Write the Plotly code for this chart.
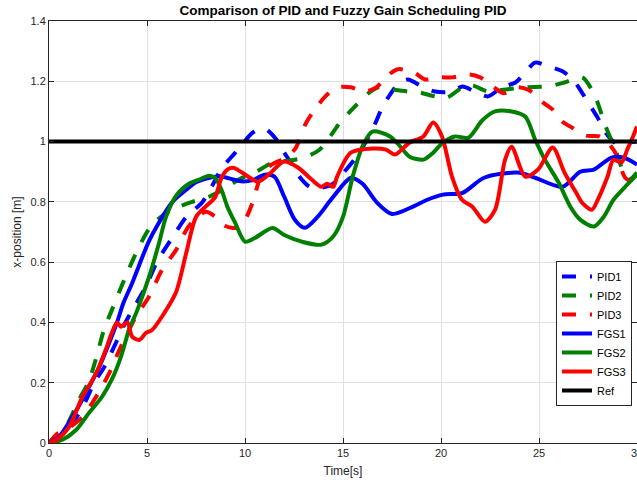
import plotly.graph_objects as go

# ---------------- data ----------------
pid1_t = [0, 0.5, 1.0, 1.5, 1.9, 2.3, 2.8, 3.47, 3.9, 4.24, 4.95, 5.5, 6.28, 7.0, 7.8, 8.3, 8.8, 9.5, 9.85,
          10.4, 11.0, 11.6, 11.9, 12.4, 12.7, 13.3, 13.9, 14.5, 14.85, 15.7, 16.5, 17.0, 17.3, 17.8, 18.3,
          19.1, 19.7, 20.6, 21.1, 21.8, 22.4, 23.1, 23.8, 24.3, 24.8, 25.46, 26.2, 26.8, 27.5, 27.96, 28.4,
          28.8, 29.1, 29.6, 30]
pid1_v = [0, 0.015, 0.05, 0.095, 0.143, 0.2, 0.25, 0.34, 0.40, 0.44, 0.52, 0.60, 0.68, 0.75, 0.797, 0.85, 0.91, 0.963, 0.99,
          1.03, 1.043, 1.007, 0.973, 0.924, 0.89, 0.85, 0.847, 0.86, 0.884, 0.95, 1.04, 1.113, 1.146, 1.19, 1.206,
          1.18, 1.166, 1.166, 1.183, 1.163, 1.15, 1.18, 1.196, 1.229, 1.262, 1.25, 1.233, 1.2, 1.13, 1.083, 1.03,
          1.0, 0.99, 0.997, 1.0]

pid2_t = [0, 0.5, 1.0, 1.5, 2.0, 2.4, 2.8, 3.2, 3.83, 4.44, 5.1, 5.7, 6.28, 7.3, 8.16, 9.0, 9.7, 10.5, 11.4,
          12.0, 12.9, 13.8, 14.85, 15.6, 16.1, 16.8, 17.5, 18.3, 18.9, 19.7, 20.3, 21.1, 21.6, 22.4, 23.3,
          24.3, 25.46, 26.3, 27.2, 27.86, 28.4, 28.9, 29.3, 29.6, 30]
pid2_v = [0, 0.02, 0.07, 0.14, 0.20, 0.28, 0.375, 0.44, 0.54, 0.63, 0.71, 0.75, 0.774, 0.80, 0.817, 0.845, 0.875, 0.897, 0.93,
          0.935, 0.945, 0.973, 1.063, 1.116, 1.15, 1.18, 1.173, 1.166, 1.163, 1.15, 1.146, 1.18, 1.186, 1.166, 1.173,
          1.18, 1.183, 1.196, 1.213, 1.15, 1.05, 0.973, 0.9, 0.874, 0.897]

pid3_t = [0, 0.4, 1.0, 1.7, 2.4, 3.06, 3.6, 4.44, 5.1, 5.77, 6.48, 7.14, 8.0, 8.5, 9.0, 9.6, 10.0, 10.4, 10.9,
          11.4, 12.0, 12.55, 13.1, 13.6, 14.1, 14.7, 15.4, 16.1, 16.7, 17.3, 17.8, 18.6, 19.2, 19.9, 20.6,
          21.4, 22.0, 22.7, 23.2, 23.9, 24.5, 25.2, 25.7, 26.2, 26.7, 27.4, 28.1, 28.6, 29.0, 29.4, 30]
pid3_v = [0, 0.03, 0.05, 0.086, 0.153, 0.23, 0.31, 0.42, 0.485, 0.575, 0.64, 0.72, 0.767, 0.75, 0.72, 0.714, 0.74, 0.80, 0.90,
          0.925, 0.945, 0.975, 1.06, 1.11, 1.15, 1.18, 1.18, 1.166, 1.18, 1.22, 1.24, 1.23, 1.206, 1.213, 1.213,
          1.223, 1.213, 1.18, 1.16, 1.18, 1.17, 1.13, 1.106, 1.066, 1.046, 1.02, 1.017, 0.99, 0.95, 0.88, 0.86]

fgs1_t = [0, 0.5, 1.0, 1.5, 2.04, 2.55, 3.06, 3.47, 3.8, 4.24, 4.6, 5.1, 5.6, 6.3, 7.0, 7.5, 8.2, 8.7, 9.2,
          9.8, 10.4, 11.0, 11.5, 12.0, 12.55, 13.06, 13.7, 14.3, 14.85, 15.4, 16.0, 16.7, 17.5, 18.6, 19.3,
          20.1, 21.1, 22.2, 23.9, 24.8, 26.2, 27.1, 27.8, 28.3, 28.7, 29.3, 30]
fgs1_v = [0, 0.02, 0.066, 0.12, 0.186, 0.25, 0.33, 0.40, 0.465, 0.53, 0.59, 0.67, 0.73, 0.80, 0.84, 0.865, 0.88, 0.885, 0.878,
          0.868, 0.872, 0.89, 0.884, 0.817, 0.74, 0.714, 0.75, 0.80, 0.845, 0.88, 0.86, 0.80, 0.76, 0.785, 0.807,
          0.824, 0.83, 0.88, 0.897, 0.88, 0.85, 0.90, 0.907, 0.93, 0.947, 0.947, 0.924]

fgs2_t = [0, 0.66, 1.38, 2.04, 2.7, 3.2, 3.67, 4.08, 4.5, 5.1, 5.6, 5.97, 6.48, 7.14, 7.7, 8.16, 8.47, 8.8, 9.1,
          9.5, 10.0, 10.5, 11.4, 12.0, 12.9, 13.9, 14.5, 15.0, 15.5, 16.0, 16.5, 17.4, 17.9, 18.4, 19.1,
          19.6, 20.1, 20.7, 21.4, 22.1, 22.76, 23.6, 24.3, 24.8, 25.3, 26.0, 26.6, 27.1, 27.8, 28.3, 28.8,
          29.5, 30]
fgs2_v = [0, 0.01, 0.043, 0.10, 0.153, 0.21, 0.286, 0.375, 0.44, 0.55, 0.66, 0.75, 0.82, 0.86, 0.875, 0.887, 0.88, 0.84, 0.784,
          0.73, 0.668, 0.68, 0.713, 0.69, 0.668, 0.658, 0.685, 0.75, 0.885, 0.985, 1.033, 1.017, 0.985, 0.95, 0.94,
          0.963, 0.997, 1.017, 1.013, 1.07, 1.10, 1.10, 1.083, 1.007, 0.94, 0.864, 0.784, 0.741, 0.718, 0.75, 0.807,
          0.857, 0.89]

fgs3_t = [0, 0.36, 1.02, 1.7, 2.4, 2.9, 3.2, 3.47, 3.67, 4.0, 4.24, 4.6, 4.95, 5.26, 5.87, 6.48, 7.0, 7.5, 8.0,
          8.47, 8.8, 9.1, 9.4, 9.85, 10.66, 11.2, 12.0, 12.7, 13.4, 13.9, 14.2, 14.5, 14.7, 15.4, 16.5, 17.2,
          17.65, 18.4, 19.1, 19.6, 20.05, 20.56, 21.07, 21.6, 22.24, 22.76, 23.27, 23.6, 24.3, 24.95, 25.7,
          26.3, 26.9, 27.2, 27.7, 28.0, 28.5, 28.8, 29.2, 29.5, 29.8, 30]
fgs3_v = [0, 0.01, 0.053, 0.153, 0.23, 0.31, 0.365, 0.40, 0.386, 0.40, 0.353, 0.342, 0.365, 0.375, 0.43, 0.50, 0.63, 0.75, 0.785,
          0.815, 0.88, 0.907, 0.913, 0.897, 0.867, 0.89, 0.934, 0.914, 0.874, 0.85, 0.86, 0.85, 0.884, 0.963, 0.977, 0.973,
          0.957, 0.997, 1.017, 1.063, 1.017, 0.884, 0.807, 0.784, 0.734, 0.774, 0.94, 0.983, 0.884, 0.907, 0.98,
          0.897, 0.83, 0.797, 0.774, 0.807, 0.884, 0.94, 0.93, 0.973, 1.017, 1.05]

ref_t = [0, 30]
ref_v = [1, 1]

x_ticks = [0, 5, 10, 15, 20, 25, 30]
y_ticks = [0, 0.2, 0.4, 0.6, 0.8, 1.0, 1.2, 1.4]
y_tick_labels = ["0", "0.2", "0.4", "0.6", "0.8", "1", "1.2", "1.4"]

series = [
    ("PID1", pid1_t, pid1_v, "#0000ff", "14px,14px"),
    ("PID2", pid2_t, pid2_v, "#008000", "14px,14px"),
    ("PID3", pid3_t, pid3_v, "#ff0000", "14px,14px"),
    ("FGS1", fgs1_t, fgs1_v, "#0000ff", "solid"),
    ("FGS2", fgs2_t, fgs2_v, "#008000", "solid"),
    ("FGS3", fgs3_t, fgs3_v, "#ff0000", "solid"),
    ("Ref", ref_t, ref_v, "#000000", "solid"),
]

FONT = "Liberation Sans, Arial, Helvetica, sans-serif"
AX = "#262626"

fig = go.Figure()
for name, t, v, col, dash in series:
    fig.add_trace(go.Scatter(
        x=t, y=v, name=name, mode="lines",
        line=dict(color=col, width=4, dash=dash, shape="spline", smoothing=0.8),
    ))

axis_common = dict(
    showgrid=True, gridcolor="#e0e0e0", gridwidth=1,
    showline=True, linecolor=AX, linewidth=1, mirror="ticks",
    ticks="inside", ticklen=5, tickcolor=AX, tickwidth=1,
    tickfont=dict(family=FONT, size=11, color=AX),
    zeroline=False, automargin=False, ticklabeloverflow="allow",
)

fig.update_layout(
    width=637, height=483, autosize=False,
    margin=dict(l=49, r=0, t=21, b=40, pad=0),
    paper_bgcolor="white", plot_bgcolor="white",
    font=dict(family=FONT, size=11, color=AX),
    title=dict(text="<b>Comparison of PID and Fuzzy Gain Scheduling PID</b>",
               font=dict(family=FONT, size=13.5, color="#000000"),
               x=0.5, xref="paper", xanchor="center",
               y=1 - 10 / 483, yref="container", yanchor="middle"),
    xaxis=dict(range=[0, 30], tickvals=x_ticks,
               title=dict(text="Time[s]", font=dict(family=FONT, size=12, color=AX), standoff=8),
               **axis_common),
    yaxis=dict(range=[0, 1.4], tickvals=y_ticks, ticktext=y_tick_labels,
               title=dict(text="x-position [m]", font=dict(family=FONT, size=12, color=AX), standoff=6),
               **axis_common),
    legend=dict(x=0.9915, xanchor="right", y=0.2595, yanchor="middle",
                bgcolor="white", bordercolor=AX, borderwidth=1,
                font=dict(family=FONT, size=11, color="#000000"),
                itemwidth=30, tracegroupgap=0),
    showlegend=True,
)

fig.write_html("out.html", config={"displayModeBar": False},
               post_script="document.body.style.margin='0';document.body.style.overflow='hidden';")
